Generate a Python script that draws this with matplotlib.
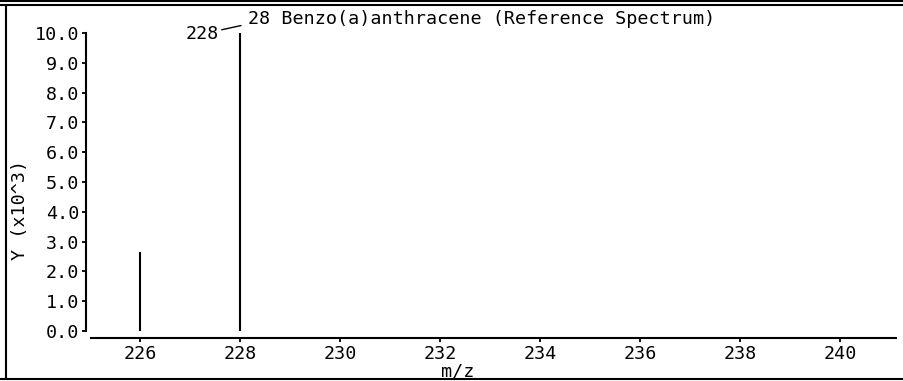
import matplotlib
matplotlib.use('Agg')
import matplotlib.pyplot as plt
from matplotlib.lines import Line2D

# spectrum data
mz = [226, 228]
intensity = [2.66, 10.0]  # x10^3
x_ticks = [226, 228, 230, 232, 234, 236, 238, 240]
y_ticks = [0, 1, 2, 3, 4, 5, 6, 7, 8, 9, 10]
title = "28 Benzo(a)anthracene (Reference Spectrum)"
peak_label = "228"

plt.rcParams['font.family'] = ['DejaVu Sans Mono']
W, H = 904, 381
FS = 13.2
fig = plt.figure(figsize=(W / 100, H / 100), dpi=100)
fig.patch.set_facecolor('white')

# axes placed in pixel terms: x from 91 to 896, y from 33 (top) to 338 (bottom)
ax = fig.add_axes([91 / W, (H - 338) / H, (896 - 91) / W, (338 - 33) / H])
ax.vlines(mz, 0, intensity, color='black', linewidth=1.5)

ax.set_xlim(225.02, 241.12)
ax.set_ylim(-0.235, 10.0)

for s in ['top', 'right']:
    ax.spines[s].set_visible(False)
ax.spines['left'].set_bounds(0, 10)
ax.spines['left'].set_position(('outward', 3.6))
ax.spines['left'].set_linewidth(1.5)
ax.spines['bottom'].set_linewidth(1.5)

ax.set_xticks(x_ticks)
ax.set_xticklabels([str(t) for t in x_ticks])
ax.set_yticks(y_ticks)
ax.set_yticklabels(['%.1f' % t for t in y_ticks])
ax.tick_params(axis='both', labelsize=FS, length=3, width=1.3, color='black', pad=2)

# axis labels
fig.text(458 / W, 1 - 371 / H, 'm/z', fontsize=FS, ha='center', va='center')
fig.text(20 / W, 1 - 210 / H, 'Y (x10^3)', fontsize=FS, ha='center', va='center',
         rotation=90)

# title and peak annotation
fig.text(248 / W, 1 - 19 / H, title, fontsize=FS, ha='left', va='center')
ax.annotate(peak_label, xy=(228.02, 10.25), xycoords='data',
            xytext=(219 / W, 1 - 34 / H), textcoords='figure fraction',
            fontsize=FS, ha='right', va='center', annotation_clip=False,
            arrowprops=dict(arrowstyle='-', color='black', lw=1.0,
                            shrinkA=0, shrinkB=0))

# outer frame like the original printout
frame = [
    Line2D([0, 1], [1 - 1 / H, 1 - 1 / H]),
    Line2D([0, 1], [1 - 5 / H, 1 - 5 / H]),
    Line2D([6 / W, 6 / W], [1 - 5 / H, 1 - 379 / H]),
    Line2D([0, 1], [1 - 379 / H, 1 - 379 / H]),
]
for ln in frame:
    ln.set_color('black')
    ln.set_linewidth(1.5)
    ln.set_transform(fig.transFigure)
    fig.lines.append(ln)

fig.savefig('out.png', dpi=100)
